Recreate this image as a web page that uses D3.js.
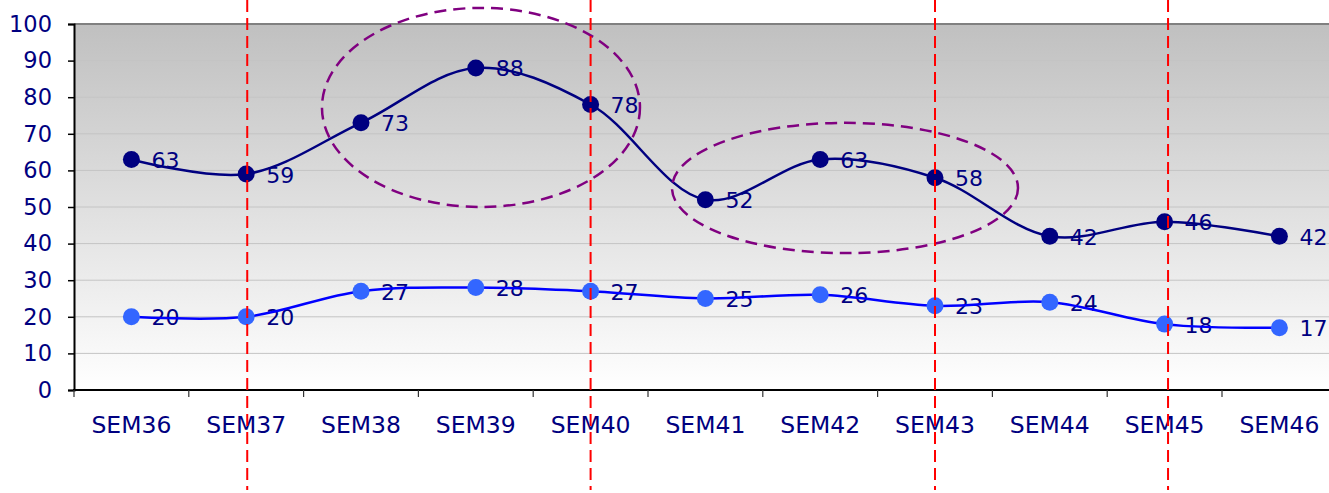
<!DOCTYPE html>
<html><head><meta charset="utf-8">
<script src="https://cdn.jsdelivr.net/npm/d3@7"></script>
<style>html,body{margin:0;padding:0;background:#fff;overflow:hidden}svg{display:block}</style>
</head><body>
<svg id="c" width="1329" height="493"></svg>
<script>
const categories = ["SEM36","SEM37","SEM38","SEM39","SEM40","SEM41","SEM42","SEM43","SEM44","SEM45","SEM46"];
const seriesHigh = [63,59,73,88,78,52,63,58,42,46,42];
const seriesLow = [20,20,27,28,27,25,26,23,24,18,17];
const yTicks = [0,10,20,30,40,50,60,70,80,90,100];
// red dashed markers: category + fractional offset within band
const markerCats = ["SEM37","SEM40","SEM43","SEM45"];
const markerOffsets = [0.509,0.5,0.5,0.53];
// ellipses: center category index, half width in categories, y range
const ellipseCx = [3.045, 6.216];
const ellipseRx = [1.385, 1.507];
const ellipseYLow = [50, 37.4];
const ellipseYHigh = [104.4, 73];

const font = "'DejaVu Sans', Verdana, sans-serif";
const textColor = "#000080";
const fw = 400;
const svg = d3.select("#c");
const m = {left:74, top:24, bottom:390};
const band = 114.8;
const x = d3.scaleBand().domain(categories).range([m.left, m.left + band*categories.length]).paddingInner(0).paddingOuter(0);
const y = d3.scaleLinear().domain([0,100]).range([m.bottom, m.top]);
const xc = c => x(c) + x.bandwidth()/2;
const xi = i => m.left + (i + 0.5)*x.bandwidth();

const defs = svg.append("defs");
const g = defs.append("linearGradient").attr("id","bg").attr("x1",0).attr("y1",0).attr("x2",0).attr("y2",1);
g.append("stop").attr("offset","0%").attr("stop-color","#c0c0c0");
g.append("stop").attr("offset","100%").attr("stop-color","#ffffff");

svg.append("rect").attr("x", m.left).attr("y", y(100)).attr("width", 1329 - m.left).attr("height", y(0)-y(100)).attr("fill","url(#bg)");

// gridlines
svg.append("g").selectAll("line").data(yTicks.filter(d=>d>0 && d<100)).join("line")
  .attr("x1", m.left).attr("x2", 1329).attr("y1", d=>y(d)).attr("y2", d=>y(d))
  .attr("stroke","#c4c4c4").attr("stroke-width",1);
// top border
svg.append("line").attr("x1", m.left).attr("x2",1329).attr("y1",y(100)).attr("y2",y(100)).attr("stroke","#808080").attr("stroke-width",2);

// y axis
const ya = svg.append("g").attr("transform",`translate(${m.left},0)`)
  .call(d3.axisLeft(y).tickValues(yTicks).tickSize(6).tickPadding(16));
ya.select(".domain").attr("stroke","#000").attr("stroke-width",2);
ya.selectAll(".tick line").attr("stroke","#000").attr("stroke-width",1.5);
ya.selectAll("text").attr("fill",textColor).attr("font-family",font).attr("font-weight",fw).attr("font-size",22.5);

// x axis with ticks at band boundaries
const xa = svg.append("g").attr("transform",`translate(0,${m.bottom})`)
  .call(d3.axisBottom(x).tickSize(0).tickPadding(26));
xa.select(".domain").remove();
xa.selectAll("text").attr("fill",textColor).attr("font-family",font).attr("font-weight",fw).attr("font-size",23.5);
svg.append("line").attr("x1",m.left-1).attr("x2",1329).attr("y1",m.bottom).attr("y2",m.bottom).attr("stroke","#000").attr("stroke-width",2);
svg.append("g").selectAll("line").data(categories).join("line")
  .attr("x1",d=>x(d)).attr("x2",d=>x(d)).attr("y1",m.bottom).attr("y2",m.bottom+7)
  .attr("stroke","#333").attr("stroke-width",1.2);

// labels (drawn beneath lines)
function labels(data){
  svg.append("g").selectAll("text").data(data).join("text")
    .attr("x",(d,i)=>xc(categories[i])+20).attr("y",d=>y(d)+8.5)
    .attr("fill",textColor).attr("font-family",font).attr("font-weight",fw).attr("font-size",22).text(d=>d);
}
labels(seriesHigh); labels(seriesLow);

// lines
const line = d3.line().x((d,i)=>xc(categories[i])).y(d=>y(d)).curve(d3.curveCatmullRom.alpha(0.5));
svg.append("path").datum(seriesHigh).attr("d",line).attr("fill","none").attr("stroke","#000080").attr("stroke-width",2.5);
svg.append("path").datum(seriesLow).attr("d",line).attr("fill","none").attr("stroke","#0000ff").attr("stroke-width",2.5);

// points
svg.append("g").selectAll("circle").data(seriesHigh).join("circle")
  .attr("cx",(d,i)=>xc(categories[i])).attr("cy",d=>y(d)).attr("r",8.5).attr("fill","#000080");
svg.append("g").selectAll("circle").data(seriesLow).join("circle")
  .attr("cx",(d,i)=>xc(categories[i])).attr("cy",d=>y(d)).attr("r",8.5).attr("fill","#3366ff");

// ellipses
svg.append("g").selectAll("ellipse").data(ellipseCx).join("ellipse")
  .attr("cx",(d)=>xi(d))
  .attr("cy",(d,i)=>(y(ellipseYLow[i])+y(ellipseYHigh[i]))/2)
  .attr("rx",(d,i)=>ellipseRx[i]*x.bandwidth())
  .attr("ry",(d,i)=>(y(ellipseYLow[i])-y(ellipseYHigh[i]))/2)
  .attr("fill","none").attr("stroke","#800080").attr("stroke-width",2.5).attr("stroke-dasharray","12,7");

// red dashed markers
svg.append("g").selectAll("line").data(markerCats).join("line")
  .attr("x1",(d,i)=>x(d)+markerOffsets[i]*x.bandwidth())
  .attr("x2",(d,i)=>x(d)+markerOffsets[i]*x.bandwidth())
  .attr("y1",0).attr("y2",490)
  .attr("stroke","#ff0000").attr("stroke-width",2).attr("stroke-dasharray","12,6");
</script>
</body></html>
